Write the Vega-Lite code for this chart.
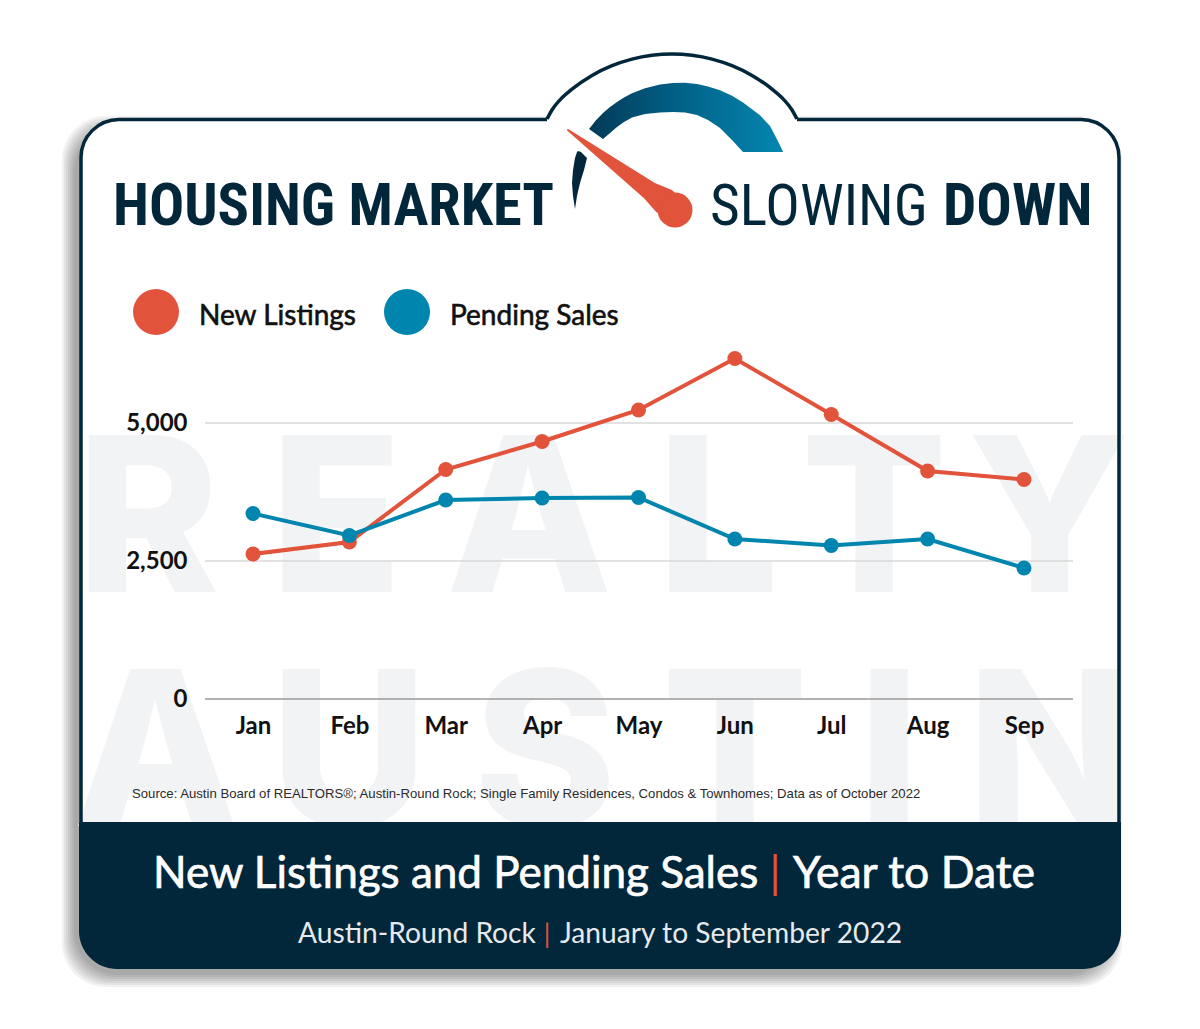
{
  "$schema": "https://vega.github.io/schema/vega-lite/v6.json",
  "width": 1200,
  "height": 1029,
  "autosize": {"type": "fit", "contains": "padding"},
  "padding": 0,
  "background": "white",
  "config": {
    "view": {"stroke": null},
    "font": "Lato",
    "axis": {"disable": true}
  },
  "resolve": {
    "scale": {"x": "independent", "y": "independent", "color": "independent"},
    "axis": {"x": "independent", "y": "independent"},
    "legend": {"color": "independent"}
  },
  "layer": [
    {
      "layer": [
        {
          "data": {"values": [
            {"x": 74, "x2": 1110, "y": 128, "y2": 975},
            {"x": 72, "x2": 1112, "y": 126, "y2": 977},
            {"x": 70, "x2": 1114, "y": 124, "y2": 979},
            {"x": 68, "x2": 1116, "y": 122, "y2": 981},
            {"x": 66, "x2": 1118, "y": 120, "y2": 983},
            {"x": 64, "x2": 1120, "y": 118, "y2": 985},
            {"x": 62, "x2": 1122, "y": 116, "y2": 987}
          ]},
          "mark": {"type": "rect", "color": "#000000", "opacity": 0.055, "cornerRadius": 44},
          "encoding": {
            "x": {"field": "x", "type": "quantitative", "scale": {"domain": [0, 1200], "range": [0, 1200], "nice": false, "zero": false}},
            "y": {"field": "y", "type": "quantitative", "scale": {"domain": [0, 1029], "range": [0, 1029], "nice": false, "zero": false}},
            "x2": {"field": "x2"},
            "y2": {"field": "y2"}
          }
        },
        {
          "data": {"values": [{}]},
          "mark": {"type": "rect", "color": "#ffffff", "cornerRadius": 38},
          "encoding": {
            "x": {"datum": 80, "type": "quantitative"}, "x2": {"datum": 1120},
            "y": {"datum": 118, "type": "quantitative"}, "y2": {"datum": 969}
          }
        },
        {
          "data": {"values": [
            {"t": "R", "x": 148}, {"t": "E", "x": 336}, {"t": "A", "x": 529},
            {"t": "L", "x": 718}, {"t": "T", "x": 874}, {"t": "Y", "x": 1049}
          ]},
          "mark": {"type": "text", "font": "Inter", "fontWeight": 800, "fontSize": 216, "color": "#f2f3f5", "align": "center", "baseline": "alphabetic"},
          "encoding": {
            "x": {"field": "x", "type": "quantitative"},
            "y": {"datum": 592, "type": "quantitative"},
            "text": {"field": "t"}
          }
        },
        {
          "data": {"values": [
            {"t": "A", "x": 156}, {"t": "U", "x": 349}, {"t": "S", "x": 545},
            {"t": "T", "x": 735}, {"t": "I", "x": 889}, {"t": "N", "x": 1050}
          ]},
          "mark": {"type": "text", "font": "Inter", "fontWeight": 800, "fontSize": 216, "color": "#f2f3f5", "align": "center", "baseline": "alphabetic"},
          "encoding": {
            "x": {"field": "x", "type": "quantitative"},
            "y": {"datum": 826, "type": "quantitative"},
            "text": {"field": "t"}
          }
        },
        {
          "data": {"values": [{}]},
          "mark": {"type": "rect", "color": "#02273b", "cornerRadiusBottomLeft": 38, "cornerRadiusBottomRight": 38},
          "encoding": {
            "x": {"datum": 79, "type": "quantitative"}, "x2": {"datum": 1121},
            "y": {"datum": 822, "type": "quantitative"}, "y2": {"datum": 969}
          }
        },
        {
          "data": {"values": [{}]},
          "mark": {"type": "rect", "fill": null, "stroke": "#02273b", "strokeWidth": 3.5, "cornerRadius": 38},
          "encoding": {
            "x": {"datum": 81, "type": "quantitative"}, "x2": {"datum": 1119},
            "y": {"datum": 119.5, "type": "quantitative"}, "y2": {"datum": 967}
          }
        },
        {
          "data": {"name": "hump", "values": [
            {"x": 547, "y": 119}, {"x": 552, "y": 110}, {"x": 562, "y": 97.8}, {"x": 572, "y": 89.1},
            {"x": 592, "y": 75.4}, {"x": 612, "y": 65.7}, {"x": 632, "y": 59.1}, {"x": 652, "y": 55.3},
            {"x": 672, "y": 54}, {"x": 692, "y": 55.3}, {"x": 712, "y": 59.1}, {"x": 732, "y": 65.7},
            {"x": 752, "y": 75.4}, {"x": 772, "y": 89.1}, {"x": 782, "y": 97.8}, {"x": 792, "y": 110},
            {"x": 797, "y": 119}
          ]},
          "encoding": {
            "x": {"field": "x", "type": "quantitative"},
            "y": {"field": "y", "type": "quantitative"}
          },
          "layer": [
            {
              "mark": {"type": "area", "color": "#ffffff", "interpolate": "monotone", "orient": "vertical"},
              "encoding": {"y2": {"datum": 124}}
            },
            {
              "mark": {"type": "line", "color": "#02273b", "strokeWidth": 3.5, "interpolate": "monotone"}
            }
          ]
        },
        {
          "data": {"values": [
            {"x": 589, "y": 129, "y2": 129}, {"x": 596, "y": 120.2, "y2": 134}, {"x": 603, "y": 113, "y2": 139},
            {"x": 610, "y": 107, "y2": 133}, {"x": 617, "y": 102, "y2": 127}, {"x": 624, "y": 97.5, "y2": 122},
            {"x": 632, "y": 93.3, "y2": 117.5}, {"x": 645, "y": 88.2, "y2": 114}, {"x": 660, "y": 84.4, "y2": 112.5},
            {"x": 673, "y": 82.9, "y2": 112}, {"x": 685, "y": 82.8, "y2": 112.6}, {"x": 697, "y": 84.1, "y2": 115},
            {"x": 708, "y": 86.4, "y2": 120}, {"x": 720, "y": 90.2, "y2": 128}, {"x": 732, "y": 95.7, "y2": 140},
            {"x": 743, "y": 102.4, "y2": 152}, {"x": 752, "y": 109.2, "y2": 152}, {"x": 760, "y": 115.3, "y2": 152},
            {"x": 770, "y": 126, "y2": 152}, {"x": 778, "y": 141.2, "y2": 152}, {"x": 783, "y": 151.7, "y2": 152}
          ]},
          "mark": {
            "type": "area", "orient": "vertical",
            "color": {"gradient": "linear", "x1": 0, "y1": 0, "x2": 1, "y2": 0, "stops": [
              {"offset": 0, "color": "#033a57"}, {"offset": 0.5, "color": "#02648b"}, {"offset": 1, "color": "#0486b0"}
            ]}
          },
          "encoding": {
            "x": {"field": "x", "type": "quantitative"},
            "y": {"field": "y", "type": "quantitative"},
            "y2": {"field": "y2"}
          }
        },
        {
          "data": {"values": [
            {"y": 151, "x": 578, "x2": 578}, {"y": 152, "x": 577, "x2": 581}, {"y": 158, "x": 575, "x2": 587},
            {"y": 170, "x": 573, "x2": 584}, {"y": 183, "x": 572, "x2": 580}, {"y": 196, "x": 573, "x2": 577},
            {"y": 209, "x": 575, "x2": 575}
          ]},
          "mark": {"type": "area", "orient": "horizontal", "color": "#02273b"},
          "encoding": {
            "x": {"field": "x", "type": "quantitative"},
            "y": {"field": "y", "type": "quantitative"},
            "x2": {"field": "x2"}
          }
        },
        {
          "data": {"values": [{"x": 568, "y": 130, "w": 2}, {"x": 650, "y": 191, "w": 19}, {"x": 664, "y": 201, "w": 27}]},
          "mark": {"type": "trail", "color": "#e2533c"},
          "encoding": {
            "x": {"field": "x", "type": "quantitative"},
            "y": {"field": "y", "type": "quantitative"},
            "size": {"field": "w", "type": "quantitative", "scale": null}
          }
        },
        {
          "data": {"values": [{}]},
          "mark": {"type": "circle", "color": "#e2533c", "opacity": 1, "size": 1225},
          "encoding": {"x": {"datum": 675, "type": "quantitative"}, "y": {"datum": 210, "type": "quantitative"}}
        },
        {
          "data": {"values": [{}]},
          "mark": {"type": "text", "text": "HOUSING MARKET", "font": "Roboto Condensed", "fontWeight": "bold", "fontSize": 58.5, "color": "#02273b", "align": "left", "baseline": "alphabetic"},
          "encoding": {"x": {"datum": 113, "type": "quantitative"}, "y": {"datum": 225, "type": "quantitative"}}
        },
        {
          "data": {"values": [{}]},
          "mark": {"type": "text", "text": "SLOWING", "font": "Roboto Condensed", "fontSize": 57.5, "color": "#02273b", "align": "left", "baseline": "alphabetic"},
          "encoding": {"x": {"datum": 710, "type": "quantitative"}, "y": {"datum": 225, "type": "quantitative"}}
        },
        {
          "data": {"values": [{}]},
          "mark": {"type": "text", "text": "DOWN", "font": "Roboto Condensed", "fontWeight": "bold", "fontSize": 59, "color": "#02273b", "align": "left", "baseline": "alphabetic"},
          "encoding": {"x": {"datum": 943, "type": "quantitative"}, "y": {"datum": 225, "type": "quantitative"}}
        },
        {
          "data": {"values": [{}]},
          "mark": {"type": "text", "text": "Source: Austin Board of REALTORS®; Austin-Round Rock; Single Family Residences, Condos & Townhomes; Data as of October 2022", "font": "Liberation Sans", "fontSize": 13.15, "color": "#2b2b2b", "align": "left", "baseline": "alphabetic"},
          "encoding": {"x": {"datum": 132, "type": "quantitative"}, "y": {"datum": 798, "type": "quantitative"}}
        },
        {
          "data": {"values": [{}]},
          "mark": {"type": "text", "text": "New Listings and Pending Sales", "font": "Lato", "fontSize": 44, "color": "#ffffff", "stroke": "#ffffff", "strokeWidth": 0.7, "align": "left", "baseline": "alphabetic"},
          "encoding": {"x": {"datum": 153, "type": "quantitative"}, "y": {"datum": 888, "type": "quantitative"}}
        },
        {
          "data": {"values": [{}]},
          "mark": {"type": "text", "text": "|", "font": "Lato", "fontSize": 44, "color": "#e2533c", "align": "center", "baseline": "alphabetic"},
          "encoding": {"x": {"datum": 775, "type": "quantitative"}, "y": {"datum": 888, "type": "quantitative"}}
        },
        {
          "data": {"values": [{}]},
          "mark": {"type": "text", "text": "Year to Date", "font": "Lato", "fontSize": 44.5, "color": "#ffffff", "stroke": "#ffffff", "strokeWidth": 0.7, "align": "left", "baseline": "alphabetic"},
          "encoding": {"x": {"datum": 793, "type": "quantitative"}, "y": {"datum": 888, "type": "quantitative"}}
        },
        {
          "data": {"values": [{}]},
          "mark": {"type": "text", "text": "Austin-Round Rock", "font": "Lato", "fontSize": 28.2, "color": "#e6eaed", "align": "left", "baseline": "alphabetic"},
          "encoding": {"x": {"datum": 298, "type": "quantitative"}, "y": {"datum": 943, "type": "quantitative"}}
        },
        {
          "data": {"values": [{}]},
          "mark": {"type": "text", "text": "|", "font": "Lato", "fontSize": 26, "color": "#e2533c", "align": "center", "baseline": "alphabetic"},
          "encoding": {"x": {"datum": 547, "type": "quantitative"}, "y": {"datum": 943, "type": "quantitative"}}
        },
        {
          "data": {"values": [{}]},
          "mark": {"type": "text", "text": "January to September 2022", "font": "Lato", "fontSize": 28.2, "color": "#e6eaed", "align": "left", "baseline": "alphabetic"},
          "encoding": {"x": {"datum": 560, "type": "quantitative"}, "y": {"datum": 943, "type": "quantitative"}}
        }
      ]
    },
    {
      "data": {"values": [
        {"v": 0, "x": 205, "x2": 1073, "c": "zero"},
        {"v": 2500, "x": 205, "x2": 1073, "c": "grid"},
        {"v": 5000, "x": 205, "x2": 1073, "c": "grid"}
      ]},
      "mark": {"type": "rule", "strokeWidth": 1.5},
      "encoding": {
        "x": {"field": "x", "type": "quantitative", "scale": {"domain": [0, 1200], "range": [0, 1200], "nice": false, "zero": false}},
        "x2": {"field": "x2"},
        "y": {
          "field": "v", "type": "quantitative",
          "scale": {"domain": [0, 5000], "range": [699, 423], "nice": false, "zero": false},
          "axis": {
            "disable": false, "zindex": 1, "orient": "left", "title": null, "values": [0, 2500, 5000], "format": ",d",
            "domain": false, "ticks": false, "grid": false, "offset": -187, "labelPadding": 0,
            "labelFont": "Lato", "labelFontWeight": "bold", "labelFontSize": 24, "labelColor": "#111111"
          }
        },
        "color": {"field": "c", "type": "nominal", "scale": {"domain": ["zero", "grid"], "range": ["#9a9a9a", "#d9d9d9"]}, "legend": null}
      }
    },
    {
      "data": {"values": [
        {"month": "Jan", "series": "New Listings", "value": 2627},
        {"month": "Feb", "series": "New Listings", "value": 2844},
        {"month": "Mar", "series": "New Listings", "value": 4158},
        {"month": "Apr", "series": "New Listings", "value": 4665},
        {"month": "May", "series": "New Listings", "value": 5236},
        {"month": "Jun", "series": "New Listings", "value": 6168},
        {"month": "Jul", "series": "New Listings", "value": 5154},
        {"month": "Aug", "series": "New Listings", "value": 4130},
        {"month": "Sep", "series": "New Listings", "value": 3977},
        {"month": "Jan", "series": "Pending Sales", "value": 3360},
        {"month": "Feb", "series": "Pending Sales", "value": 2962},
        {"month": "Mar", "series": "Pending Sales", "value": 3605},
        {"month": "Apr", "series": "Pending Sales", "value": 3641},
        {"month": "May", "series": "Pending Sales", "value": 3650},
        {"month": "Jun", "series": "Pending Sales", "value": 2899},
        {"month": "Jul", "series": "Pending Sales", "value": 2781},
        {"month": "Aug", "series": "Pending Sales", "value": 2899},
        {"month": "Sep", "series": "Pending Sales", "value": 2373}
      ]},
      "encoding": {
        "x": {
          "field": "month", "type": "ordinal", "sort": null,
          "scale": {"type": "point", "domain": ["Jan", "Feb", "Mar", "Apr", "May", "Jun", "Jul", "Aug", "Sep"], "range": [253, 1024], "padding": 0},
          "axis": {
            "disable": false, "zindex": 1, "orient": "bottom", "title": null, "domain": false, "ticks": false, "grid": false,
            "offset": -330, "labelPadding": 15, "labelAngle": 0,
            "labelFont": "Lato", "labelFontWeight": "bold", "labelFontSize": 24, "labelColor": "#111111"
          }
        },
        "y": {
          "field": "value", "type": "quantitative",
          "scale": {"domain": [0, 5000], "range": [699, 423], "nice": false, "zero": false}
        },
        "color": {
          "field": "series", "type": "nominal",
          "scale": {"domain": ["New Listings", "Pending Sales"], "range": ["#e2533c", "#0085ae"]},
          "legend": {
            "orient": "none", "legendX": 133, "legendY": 289, "direction": "horizontal", "title": null,
            "symbolType": "circle", "symbolSize": 2116, "symbolStrokeWidth": 0, "symbolOpacity": 1,
            "labelFont": "Lato", "labelFontSize": 28, "labelColor": "#111111", "labelLimit": 400,
            "labelOffset": 20, "columnPadding": 27,
            "encode": {"labels": {"update": {"dy": {"value": 5}, "stroke": {"value": "#111111"}, "strokeWidth": {"value": 0.6}}}}
          }
        }
      },
      "layer": [
        {"mark": {"type": "line", "strokeWidth": 4}},
        {"mark": {"type": "circle", "size": 225, "opacity": 1}}
      ]
    }
  ]
}
